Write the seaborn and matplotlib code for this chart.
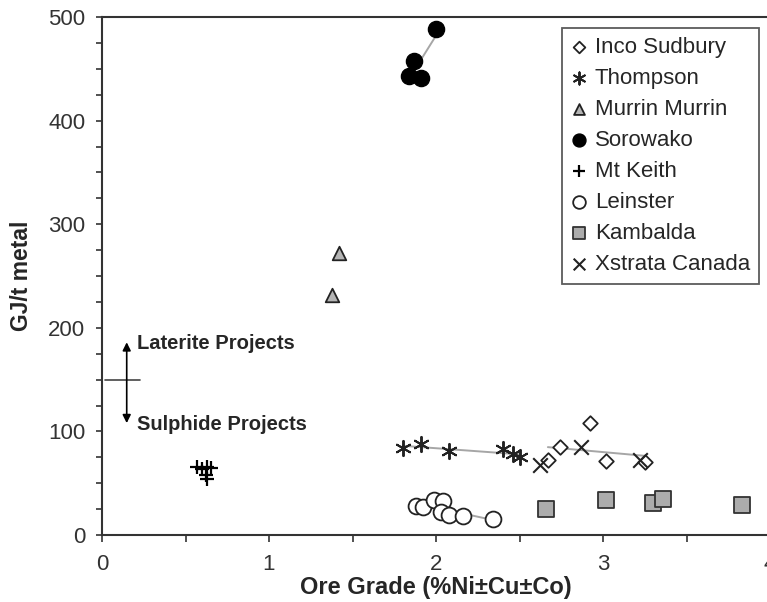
import matplotlib
matplotlib.use("Agg")
import matplotlib.pyplot as plt
import seaborn as sns
import numpy as np
import pandas as pd
from matplotlib.ticker import MultipleLocator

# ---- data ----
inco_x = [2.67, 2.74, 2.92, 3.02, 3.25]
inco_y = [72, 85, 108, 71, 70]
thompson_x = [1.80, 1.91, 2.08, 2.40, 2.46, 2.50]
thompson_y = [84, 88, 81, 83, 78, 75]
murrin_x = [1.38, 1.42]
murrin_y = [232, 272]
sorowako_x = [1.84, 1.87, 1.91, 2.00]
sorowako_y = [443, 458, 441, 488]
mtkeith_x = [0.57, 0.60, 0.63, 0.65, 0.62, 0.63]
mtkeith_y = [66, 64, 66, 65, 58, 54]
leinster_x = [1.88, 1.92, 1.99, 2.04, 2.03, 2.08, 2.16, 2.34]
leinster_y = [28, 27, 34, 33, 22, 19, 18, 15]
kambalda_x = [2.66, 3.02, 3.30, 3.36, 3.83]
kambalda_y = [25, 34, 31, 35, 29]
xstrata_x = [2.62, 2.87, 3.22]
xstrata_y = [68, 85, 72]

# annotation (divider between laterite / sulphide projects)
divider_x = [0.02, 0.23]
divider_y = [150, 150]
arrow_x = 0.148
arrow_top = 186
arrow_bottom = 108
laterite_label = "Laterite Projects"
sulphide_label = "Sulphide Projects"

sns.set_style("white")
plt.rcParams['font.family'] = ['Liberation Sans', 'DejaVu Sans']

fig = plt.figure(figsize=(7.67, 6.02), dpi=100)
ax = fig.add_axes([102/767, 1-535/602, 668/767, 518/602])

line_kw = dict(color="#a6a6a6", lw=1.4)

def reg(x, y):
    sns.regplot(x=np.array(x), y=np.array(y), scatter=False, ci=None,
                truncate=True, line_kws=line_kw, ax=ax)

reg(sorowako_x, sorowako_y)
reg(thompson_x, thompson_y)
reg(inco_x, inco_y)
reg(leinster_x, leinster_y)

sns.scatterplot(x=inco_x, y=inco_y, marker="D", s=55, facecolor="white",
                edgecolor="#222222", linewidth=1.3, label="Inco Sudbury", ax=ax, zorder=3)
sns.scatterplot(x=thompson_x, y=thompson_y, marker=(6, 2, 0), s=120, color="#222222",
                linewidth=1.4, label="Thompson", ax=ax, zorder=3)
sns.scatterplot(x=murrin_x, y=murrin_y, marker="^", s=95, facecolor="#b4b4b4",
                edgecolor="#222222", linewidth=1.3, label="Murrin Murrin", ax=ax, zorder=3)
sns.scatterplot(x=sorowako_x, y=sorowako_y, marker="o", s=135, facecolor="black",
                edgecolor="black", linewidth=1, label="Sorowako", ax=ax, zorder=3)
sns.scatterplot(x=mtkeith_x, y=mtkeith_y, marker="+", s=110, color="black",
                linewidth=1.6, label="Mt Keith", ax=ax, zorder=3)
sns.scatterplot(x=leinster_x, y=leinster_y, marker="o", s=130, facecolor="white",
                edgecolor="#222222", linewidth=1.3, label="Leinster", ax=ax, zorder=3)
sns.scatterplot(x=kambalda_x, y=kambalda_y, marker="s", s=120, facecolor="#acacac",
                edgecolor="#333333", linewidth=1.3, label="Kambalda", ax=ax, zorder=3)
sns.scatterplot(x=xstrata_x, y=xstrata_y, marker="x", s=110, color="#222222",
                linewidth=1.5, label="Xstrata Canada", ax=ax, zorder=3)

# divider annotation
ax.plot(divider_x, divider_y, color="#444444", lw=1.2)
ax.annotate("", xy=(arrow_x, arrow_top), xytext=(arrow_x, arrow_bottom),
            arrowprops=dict(arrowstyle="<|-|>", color="black", lw=1.2,
                            mutation_scale=12, shrinkA=0, shrinkB=0))
ax.text(0.21, arrow_top - 1, laterite_label, fontsize=14.5, fontweight="bold",
        ha="left", va="center")
ax.text(0.21, arrow_bottom - 1, sulphide_label, fontsize=14.5, fontweight="bold",
        ha="left", va="center")

ax.set_xlim(0, 4)
ax.set_ylim(0, 500)
ax.xaxis.set_major_locator(MultipleLocator(1))
ax.xaxis.set_minor_locator(MultipleLocator(0.5))
ax.yaxis.set_major_locator(MultipleLocator(100))
ax.yaxis.set_minor_locator(MultipleLocator(25))
ax.tick_params(axis="x", which="both", direction="out", length=5, width=1.2,
               color="#333333", labelsize=16, labelcolor="#333333", pad=9, bottom=True)
ax.tick_params(axis="y", which="both", direction="out", length=4, width=1.2,
               color="#333333", labelsize=16, labelcolor="#333333", pad=8, left=True)

for side in ["left", "bottom", "top"]:
    ax.spines[side].set_visible(True)
    ax.spines[side].set_color("#333333")
    ax.spines[side].set_linewidth(1.5)
ax.spines["right"].set_visible(False)

ax.set_xlabel("Ore Grade (%Ni±Cu±Co)", fontsize=17, fontweight="bold")
ax.set_ylabel("GJ/t metal", fontsize=16.5, fontweight="bold")
ax.xaxis.set_label_coords(0.5, -0.08)
ax.yaxis.set_label_coords(-0.103, 0.5)

leg = ax.legend(loc="upper right", bbox_to_anchor=(759/767, 1-28/602),
                bbox_transform=fig.transFigure, borderaxespad=0,
                frameon=True, fancybox=False, fontsize=16, labelspacing=0.45,
                handlelength=0.8, handletextpad=0.3, borderpad=0.4,
                markerscale=0.8)
leg.get_frame().set_edgecolor("#333333")
leg.get_frame().set_linewidth(1.3)

fig.savefig("out.png", dpi=100)
